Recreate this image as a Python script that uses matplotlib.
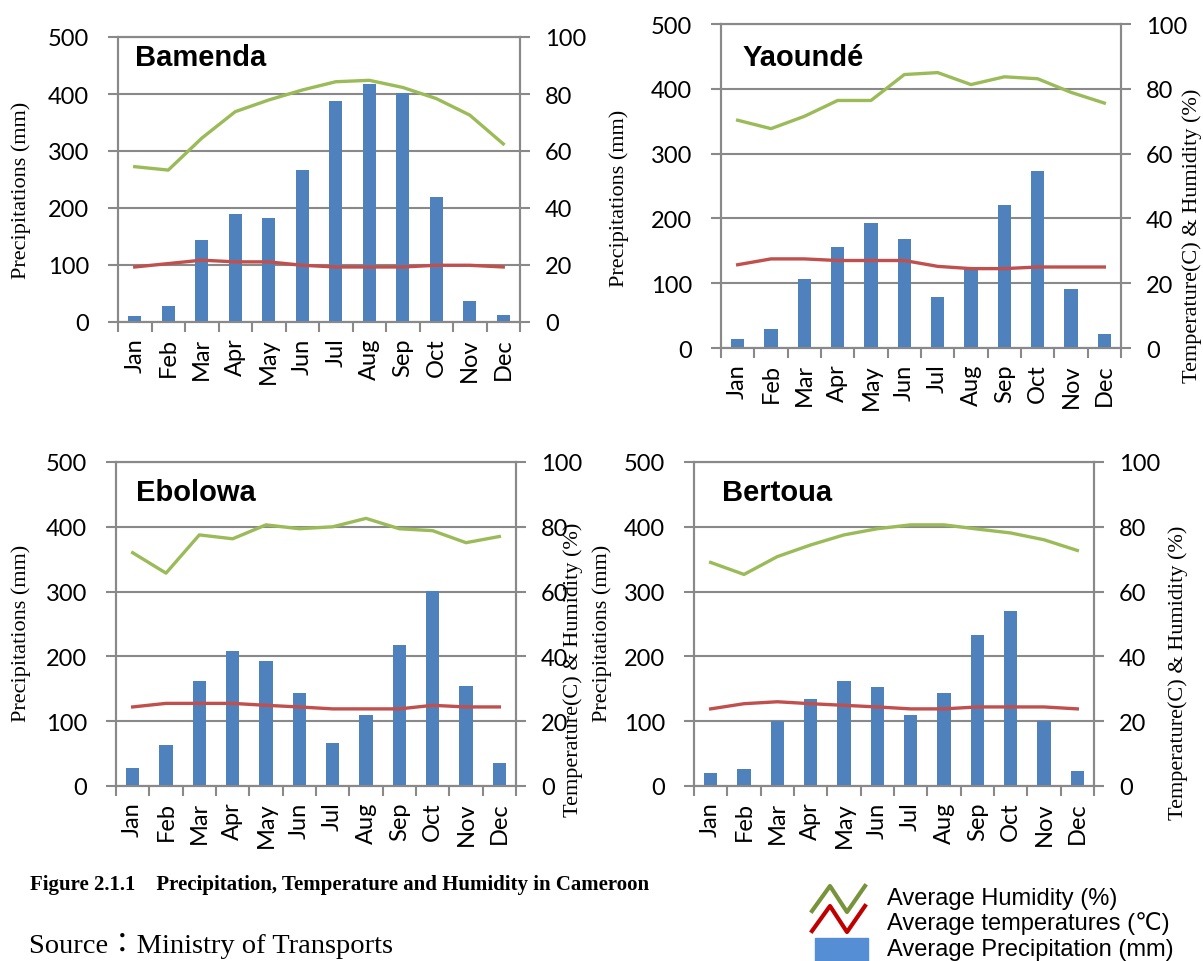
import numpy as np
import matplotlib.pyplot as plt
from matplotlib.lines import Line2D
from matplotlib.patches import Rectangle

months = ['Jan', 'Feb', 'Mar', 'Apr', 'May', 'Jun',
          'Jul', 'Aug', 'Sep', 'Oct', 'Nov', 'Dec']

# precipitation (mm), temperature (C), humidity (%)
bamenda_rain = [10, 28, 143, 189, 182, 266, 387, 418, 402, 220, 37, 13]
bamenda_temp = [19.3, 20.5, 21.7, 21.1, 21.1, 19.9, 19.3, 19.3, 19.3, 19.9, 19.9, 19.3]
bamenda_hum = [54.5, 53.3, 64.5, 73.8, 77.9, 81.4, 84.3, 84.8, 82.3, 78.4, 72.6, 62.5]

yaounde_rain = [14, 29, 106, 156, 193, 168, 79, 122, 221, 273, 91, 21]
yaounde_temp = [25.7, 27.5, 27.5, 27.0, 27.0, 27.0, 25.2, 24.5, 24.5, 25.0, 25.0, 25.0]
yaounde_hum = [70.3, 67.7, 71.5, 76.4, 76.4, 84.4, 85.0, 81.3, 83.7, 83.1, 78.9, 75.6]

ebolowa_rain = [28, 63, 162, 208, 193, 143, 66, 109, 217, 301, 155, 35]
ebolowa_temp = [24.4, 25.5, 25.5, 25.5, 24.9, 24.4, 23.8, 23.8, 23.8, 24.9, 24.4, 24.4]
ebolowa_hum = [72.0, 65.7, 77.5, 76.3, 80.6, 79.4, 80.0, 82.6, 79.4, 78.8, 75.1, 77.0]

bertoua_rain = [20, 26, 101, 134, 162, 153, 109, 143, 233, 270, 101, 23]
bertoua_temp = [23.8, 25.4, 26.0, 25.4, 24.9, 24.4, 23.8, 23.8, 24.4, 24.4, 24.4, 23.8]
bertoua_hum = [69.0, 65.3, 70.8, 74.4, 77.5, 79.4, 80.6, 80.6, 79.3, 78.1, 76.0, 72.7]

BLUE = '#4F81BD'
GREEN = '#9BBB59'
RED = '#C0504D'
GRID = '#898989'

W, H = 1203, 962
fig = plt.figure(figsize=(W / 100, H / 100), dpi=100)

NUM_FONT = 'Lato'
SERIF = 'Liberation Serif'


def px(x, y):
    return x / W, 1 - y / H


def panel(left, right, top, bottom, name, rain, temp, hum, title_pos,
          ylab_pos, y2lab_pos=None):
    x0, y0 = px(left, bottom)
    ax = fig.add_axes([x0, y0, (right - left) / W, (bottom - top) / H])
    x = np.arange(12)
    ax.bar(x, rain, width=0.4, color=BLUE, zorder=3)
    ax.set_xlim(-0.5, 11.5)
    ax.set_ylim(0, 500)
    ax.set_yticks(range(0, 501, 100))
    ax.grid(axis='y', color=GRID, lw=1.5, zorder=0)
    ax.set_xticks(x)
    ax.set_xticklabels(months, rotation=90, fontsize=17, family=NUM_FONT)
    ax.set_xticks(np.arange(-0.5, 12, 1), minor=True)
    ax.tick_params(axis='x', which='major', length=0, pad=11)
    ax.tick_params(axis='x', which='minor', length=7, width=1.5, color=GRID)
    ax.tick_params(axis='y', length=7, width=1.5, color=GRID, pad=14,
                   labelsize=17)
    for lab in ax.get_yticklabels():
        lab.set_family(NUM_FONT)
    for s in ax.spines.values():
        s.set_color(GRID)
        s.set_linewidth(1.5)

    ax2 = ax.twinx()
    ax2.plot(x, hum, color=GREEN, lw=2.4, zorder=4)
    ax2.plot(x, temp, color=RED, lw=2.4, zorder=4)
    ax2.set_ylim(0, 100)
    ax2.set_yticks(range(0, 101, 20))
    ax2.tick_params(axis='y', length=7, width=1.5, color=GRID, pad=11,
                    labelsize=17)
    for lab in ax2.get_yticklabels():
        lab.set_family(NUM_FONT)
    for s in ax2.spines.values():
        s.set_color(GRID)
        s.set_linewidth(1.5)

    tx, ty = px(*title_pos)
    fig.text(tx, ty, name, fontsize=21, fontweight='bold',
             family='Liberation Sans', ha='left', va='center')
    lx, ly = px(*ylab_pos)
    fig.text(lx, ly, 'Precipitations (mm)', rotation=90, fontsize=16,
             family=SERIF, ha='center', va='center')
    if y2lab_pos is not None:
        rx, ry = px(*y2lab_pos)
        fig.text(rx, ry, 'Temperature(C) & Humidity (%)', rotation=90,
                 fontsize=16, family=SERIF, ha='center', va='center')
    return ax


panel(118, 520, 38, 323, 'Bamenda', bamenda_rain, bamenda_temp, bamenda_hum,
      (135, 58), (21, 190))
panel(721, 1121, 25, 349, 'Yaoundé', yaounde_rain, yaounde_temp, yaounde_hum,
      (743, 58), (619, 198), (1192, 236))
panel(116, 516, 463, 787, 'Ebolowa', ebolowa_rain, ebolowa_temp, ebolowa_hum,
      (136, 493), (21, 633), (573, 670))
panel(694, 1094, 463, 787, 'Bertoua', bertoua_rain, bertoua_temp, bertoua_hum,
      (722, 493), (602, 633), (1178, 673))

# caption and source
cx, cy = px(30, 885)
fig.text(cx, cy, 'Figure 2.1.1    Precipitation, Temperature and Humidity in Cameroon',
         fontsize=15, fontweight='bold', family=SERIF, ha='left', va='center')
sx, sy = px(29, 946)
fig.text(sx, sy, 'Source：Ministry of Transports', fontsize=20.5,
         family=[SERIF, 'Noto Sans CJK JP'], ha='left', va='center')

# legend drawn by hand (zigzag icons)
def zig(xs, ys, color):
    fx = [v / W for v in xs]
    fy = [1 - v / H for v in ys]
    fig.add_artist(Line2D(fx, fy, color=color, lw=3, transform=fig.transFigure))

zig([812, 830, 847, 865], [912, 887, 913, 887], '#77933C')
zig([812, 830, 847, 865], [932, 907, 933, 907], '#C00000')
rx, ry = px(815, 962)
fig.add_artist(Rectangle((rx, ry), 53 / W, 23 / H, color='#558ED5',
                         transform=fig.transFigure))
leg_text = ['Average Humidity (%)', 'Average temperatures (℃)',
            'Average Precipitation (mm)']
for t, yy in zip(leg_text, [899, 924, 950]):
    lx, ly = px(887, yy)
    fig.text(lx, ly, t, fontsize=17, family=['Liberation Sans', 'DejaVu Sans'],
             ha='left', va='center')

fig.savefig('out.png', dpi=100)
